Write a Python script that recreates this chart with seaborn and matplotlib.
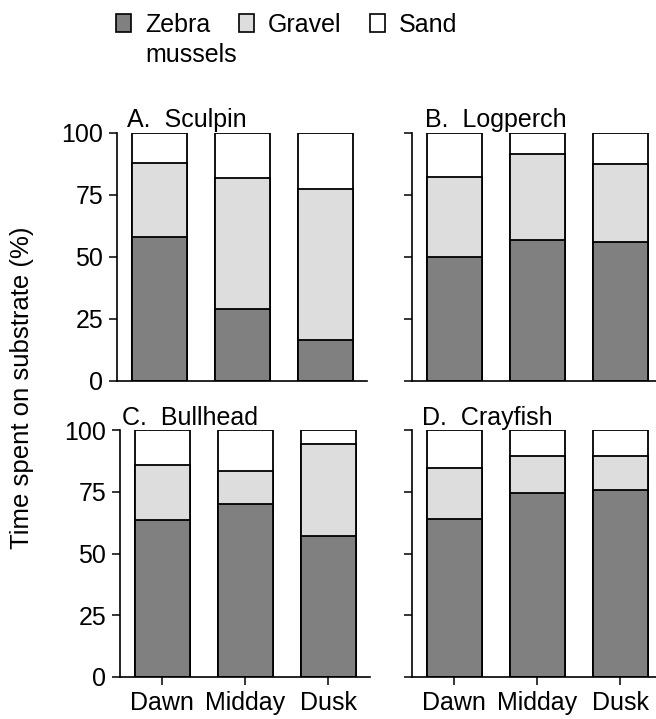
import pandas as pd
import seaborn as sns
import matplotlib.pyplot as plt
from matplotlib.patches import Patch

# =========================
# Data (percent of time on each substrate)
# =========================
times = ["Dawn", "Midday", "Dusk"]
titles = ["A.  Sculpin", "B.  Logperch", "C.  Bullhead", "D.  Crayfish"]

zebra_sculpin = [58.0, 29.0, 16.5]
gravel_sculpin = [30.0, 52.7, 61.0]
sand_sculpin = [12.0, 18.3, 22.5]

zebra_logperch = [50.0, 57.0, 56.0]
gravel_logperch = [32.4, 34.4, 31.4]
sand_logperch = [17.6, 8.6, 12.6]

zebra_bullhead = [63.5, 70.0, 57.0]
gravel_bullhead = [22.5, 13.4, 37.3]
sand_bullhead = [14.0, 16.6, 5.7]

zebra_crayfish = [64.0, 74.3, 75.7]
gravel_crayfish = [20.7, 15.3, 13.9]
sand_crayfish = [15.3, 10.4, 10.4]

yticks = [0, 25, 50, 75, 100]
legend_labels = ["Zebra", "Gravel", "Sand"]

# =========================
# Build tables
# =========================
rows = []
for title, z, g, s in zip(
    titles,
    [zebra_sculpin, zebra_logperch, zebra_bullhead, zebra_crayfish],
    [gravel_sculpin, gravel_logperch, gravel_bullhead, gravel_crayfish],
    [sand_sculpin, sand_logperch, sand_bullhead, sand_crayfish],
):
    for t, zv, gv, sv in zip(times, z, g, s):
        rows.append({"panel": title, "time": t, "zebra": zv,
                     "gravel": gv, "sand": sv})
df = pd.DataFrame(rows)
df["top_gravel"] = df["zebra"] + df["gravel"]
df["top_sand"] = df["top_gravel"] + df["sand"]

# =========================
# Style
# =========================
sns.set_style("ticks")
plt.rcParams["font.family"] = ["Liberation Sans", "DejaVu Sans"]
plt.rcParams["font.size"] = 18
for key in ["text.color", "axes.labelcolor", "xtick.color", "ytick.color",
            "axes.edgecolor"]:
    plt.rcParams[key] = "black"

colors = {"zebra": "#808080", "top_gravel": "#dddddd", "top_sand": "white"}

W, H = 656, 719
fig = plt.figure(figsize=(W / 100, H / 100), dpi=100)

# axes boxes in pixels: left, top, width, height
boxes = [(117, 133, 250, 248), (412, 133, 250, 248),
         (120, 430, 250, 247), (412, 430, 250, 247)]
title_dx = [10, 13, 2, 10]
title_dy = [6, 6, 5, 5]

for i, title in enumerate(titles):
    l, t, w, h = boxes[i]
    ax = fig.add_axes([l / W, 1 - (t + h) / H, w / W, h / H])
    sub = df[df["panel"] == title]
    for col in ["top_sand", "top_gravel", "zebra"]:
        sns.barplot(data=sub, x="time", y=col, order=times, color=colors[col],
                    edgecolor="black", linewidth=1.3, width=0.66,
                    errorbar=None, saturation=1, ax=ax)
    ax.set_xlim(-0.51, 2.5)
    ax.set_ylim(0, 100)
    ax.set_yticks(yticks)
    ax.set_xlabel("")
    ax.set_ylabel("")
    sns.despine(ax=ax)
    for sp in ["left", "bottom"]:
        ax.spines[sp].set_linewidth(1.2)
    ax.tick_params(axis="both", length=6, width=1.1, labelsize=18, pad=4,
                   colors="black")
    if i < 2:
        ax.tick_params(axis="x", length=0, labelbottom=False)
    if i % 2 == 1:
        ax.tick_params(axis="y", labelleft=False)
    ax.text(title_dx[i] / w, 1 + title_dy[i] / h, title, transform=ax.transAxes,
            ha="left", va="baseline", fontsize=18)

fig.text(22.5 / W, 1 - 387.5 / H, "Time spent on substrate (%)",
         rotation=90, ha="center", va="center", fontsize=18.5)

# =========================
# Legend
# =========================
handles = [Patch(facecolor=colors[c], edgecolor="black", linewidth=1.2)
           for c in ["zebra", "top_gravel", "top_sand"]]
fig.legend(handles, legend_labels, loc="upper left",
           bbox_to_anchor=(116 / W, 1 - 13 / H), ncol=3, frameon=False,
           borderpad=0, borderaxespad=0, handlelength=0.6, handleheight=0.72,
           handletextpad=0.55, columnspacing=1.15, fontsize=18)
fig.text(145 / W, 1 - 62 / H, "mussels", ha="left", va="baseline", fontsize=18)

fig.savefig("out.png", dpi=100)
